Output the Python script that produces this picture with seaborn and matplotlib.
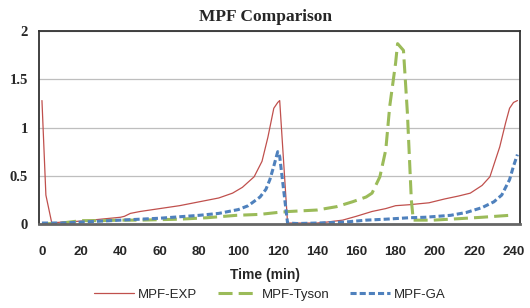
import pandas as pd
import seaborn as sns
import matplotlib.pyplot as plt

# data
t_exp = [0, 2, 5, 10, 20, 30, 40, 42, 45, 50, 60, 70, 80, 90, 97, 102, 108, 112,
         115, 118, 120, 121, 125, 130, 140, 145, 153, 160, 168, 175, 180, 187, 197,
         205, 212, 218, 224, 228, 233, 236, 238, 240, 242]
v_exp = [1.28, 0.30, 0.01, 0.02, 0.03, 0.05, 0.07, 0.08, 0.11, 0.13, 0.16, 0.19,
         0.23, 0.27, 0.32, 0.38, 0.49, 0.65, 0.90, 1.20, 1.26, 1.28, 0.01, 0.01,
         0.01, 0.02, 0.04, 0.08, 0.13, 0.16, 0.19, 0.20, 0.22, 0.26, 0.29, 0.32,
         0.40, 0.49, 0.80, 1.05, 1.20, 1.26, 1.28]

t_tyson = [0, 10, 20, 30, 40, 50, 60, 70, 84, 99, 111, 120, 126, 140, 150, 158, 165,
           168, 172, 175, 177, 180, 181, 184, 186, 187, 188, 189, 199, 212, 224, 238]
v_tyson = [0.0, 0.01, 0.035, 0.035, 0.04, 0.04, 0.045, 0.05, 0.065, 0.09, 0.10,
           0.12, 0.13, 0.145, 0.18, 0.23, 0.28, 0.32, 0.49, 0.77, 1.22, 1.67, 1.87,
           1.80, 1.15, 0.70, 0.25, 0.04, 0.04, 0.055, 0.07, 0.09]

t_ga = [0, 10, 20, 30, 40, 50, 60, 70, 80, 90, 100, 105, 111, 114, 116, 118, 120,
        121, 125, 130, 140, 154, 165, 175, 187, 195, 208, 216, 224, 230, 234, 238,
        240, 242]
v_ga = [0.01, 0.01, 0.02, 0.03, 0.04, 0.05, 0.06, 0.075, 0.09, 0.11, 0.15, 0.19,
        0.28, 0.36, 0.46, 0.60, 0.75, 0.70, 0.01, 0.005, 0.01, 0.02, 0.04, 0.05,
        0.065, 0.07, 0.09, 0.12, 0.17, 0.23, 0.30, 0.46, 0.60, 0.72]

x_ticks = list(range(0, 241, 20))
y_ticks = [0, 0.5, 1, 1.5, 2]

sns.set_style("white")

fig = plt.figure(figsize=(5.3, 3.08), dpi=100)
ax = fig.add_axes([0.0736, 0.2727, 0.9075, 0.6263])

df_exp = pd.DataFrame({'t': t_exp, 'v': v_exp})
df_tyson = pd.DataFrame({'t': t_tyson, 'v': v_tyson})
df_ga = pd.DataFrame({'t': t_ga, 'v': v_ga})

sns.lineplot(data=df_exp, x='t', y='v', ax=ax, color='#C0504D', linewidth=0.9,
             label='MPF-EXP')
sns.lineplot(data=df_tyson, x='t', y='v', ax=ax, color='#9BBB59', linewidth=2.2,
             label='MPF-Tyson')
ax.lines[-1].set_dashes((4.6, 2.0))
sns.lineplot(data=df_ga, x='t', y='v', ax=ax, color='#4F81BD', linewidth=2.2,
             label='MPF-GA')
ax.lines[-1].set_dashes((2.0, 1.0))

ax.set_xlim(-1.5, 243.3)
ax.set_ylim(0, 2)
ax.set_xticks(x_ticks)
ax.set_yticks(y_ticks)
ax.set_xticklabels([str(v) for v in x_ticks], fontweight='bold', fontsize=9.5,
                   family='Liberation Sans')
ax.set_yticklabels(['0', '0.5', '1', '1.5', '2'], fontweight='bold', fontsize=10.5,
                   family='Liberation Serif')
ax.tick_params(axis='x', length=0, pad=16)
ax.tick_params(axis='y', length=0, pad=8)
ax.yaxis.grid(True, color='#BEBEBE', linewidth=0.9)
ax.set_axisbelow(True)
for s in ax.spines.values():
    s.set_color('#333333')
    s.set_linewidth(1.3)
ax.spines['bottom'].set_color('#666666')
ax.spines['bottom'].set_linewidth(2)

ax.set_title('MPF Comparison', fontweight='bold', fontsize=12.5,
             family='Liberation Serif', x=0.47, pad=7)
ax.set_xlabel('Time (min)', fontweight='bold', fontsize=10, family='Liberation Sans')
ax.xaxis.set_label_coords(0.47, -0.23)
ax.set_ylabel('')

leg = ax.legend(loc='center', bbox_to_anchor=(0.48, -0.368), ncol=3,
                frameon=False, handlelength=3.0, columnspacing=1.6,
                handletextpad=0.3, prop={'family': 'Liberation Sans', 'size': 9.5})

fig.savefig('out.png', dpi=100)
